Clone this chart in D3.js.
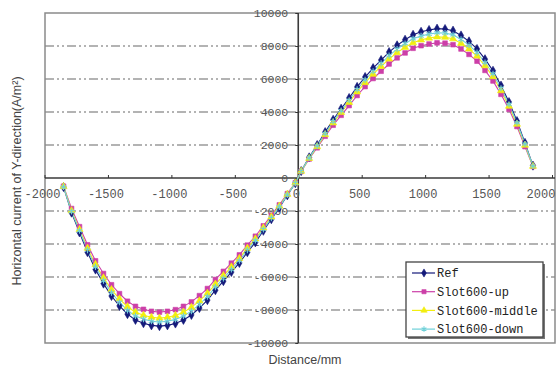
<!DOCTYPE html>
<html>
<head>
<meta charset="utf-8">
<script src="https://cdn.jsdelivr.net/npm/d3@7"></script>
<style>
  html, body { margin: 0; padding: 0; background: #fff; }
  svg { display: block; }
</style>
</head>
<body>
<svg id="chart" width="558" height="367"></svg>
<script>
// Sampling positions along the line (mm)
const distance = [
  -1850, -1787, -1724, -1661, -1598, -1535, -1472, -1409, -1346, -1283,
  -1220, -1157, -1094, -1031, -968, -905, -842, -779, -716, -653,
  -590, -527, -464, -401, -338, -275, -212, -149, -86, -23,
  23, 86, 149, 212, 275, 338, 401, 464, 527, 590,
  653, 716, 779, 842, 905, 968, 1031, 1094, 1157, 1220,
  1283, 1346, 1409, 1472, 1535, 1598, 1661, 1724, 1787, 1850
];

// Horizontal current density, Y-direction (A/m^2)
const refValues = [
  -550, -2100, -3300, -4500, -5550, -6400, -7150, -7750, -8250, -8600,
  -8800, -8930, -8980, -8930, -8820, -8600, -8300, -7880, -7400, -6800,
  -6250, -5700, -5150, -4500, -3900, -3200, -2500, -1800, -1050, -320,
  420, 1250, 2000, 2780, 3530, 4200, 4850, 5520, 6120, 6660,
  7150, 7630, 8040, 8380, 8680, 8860, 8970, 9050, 9030, 8930,
  8640, 8280, 7820, 7200, 6500, 5600, 4600, 3450, 2130, 750
];
const upValues = [
  -500, -1850, -2950, -4050, -5020, -5790, -6470, -7010, -7470, -7780,
  -7960, -8080, -8130, -8080, -7980, -7780, -7510, -7130, -6700, -6150,
  -5660, -5160, -4660, -4070, -3530, -2900, -2260, -1630, -950, -290,
  400, 1150, 1830, 2530, 3200, 3800, 4390, 5000, 5540, 6030,
  6470, 6910, 7280, 7580, 7860, 8020, 8120, 8190, 8170, 8080,
  7820, 7490, 7080, 6520, 5880, 5070, 4160, 3120, 1900, 700
];
const middleValues = [
  -520, -1985, -3120, -4250, -5240, -6050, -6760, -7320, -7800, -8130,
  -8320, -8440, -8490, -8440, -8330, -8130, -7840, -7450, -6990, -6430,
  -5910, -5390, -4870, -4250, -3690, -3020, -2360, -1700, -990, -300,
  410, 1190, 1900, 2630, 3340, 3970, 4580, 5220, 5780, 6290,
  6760, 7210, 7600, 7920, 8200, 8370, 8480, 8550, 8530, 8440,
  8160, 7820, 7390, 6800, 6140, 5290, 4350, 3260, 1990, 710
];
const downValues = [
  -540, -2030, -3200, -4370, -5390, -6220, -6950, -7530, -8020, -8360,
  -8550, -8680, -8730, -8680, -8570, -8360, -8070, -7660, -7190, -6610,
  -6080, -5540, -5010, -4370, -3790, -3110, -2430, -1750, -1020, -310,
  415, 1220, 1950, 2700, 3430, 4080, 4710, 5370, 5950, 6470,
  6950, 7420, 7810, 8150, 8440, 8610, 8720, 8800, 8780, 8680,
  8400, 8050, 7600, 7000, 6320, 5440, 4470, 3350, 2060, 730
];

const seriesNames = ["Ref", "Slot600-up", "Slot600-middle", "Slot600-down"];
const xTicks = [-2000, -1500, -1000, -500, 0, 500, 1000, 1500, 2000];
const yTicks = [-10000, -8000, -6000, -4000, -2000, 0, 2000, 4000, 6000, 8000, 10000];
const xTitle = "Distance/mm";
const yTitle = "Horizontal current of Y-direction(A/m²)";

const series = [
  { name: seriesNames[0], values: refValues,    color: "#141a7a", symbol: d3.symbolDiamond,  size: 24, filled: true },
  { name: seriesNames[1], values: upValues,     color: "#cc3fa8", symbol: d3.symbolSquare,   size: 22, filled: true },
  { name: seriesNames[2], values: middleValues, color: "#f2ee10", symbol: d3.symbolTriangle, size: 22, filled: true },
  { name: seriesNames[3], values: downValues,   color: "#6fd0d8", symbol: d3.symbolAsterisk, size: 26, filled: false }
];

const svg = d3.select("#chart");
const plot = { left: 45, right: 555, top: 13, bottom: 343 };

const x = d3.scaleLinear().domain([-2000, 2000]).range([44.5, 552]);
const y = d3.scaleLinear().domain([-10000, 10000]).range([343, 13]);

// Grid lines (dash-dot-dot)
svg.append("g")
  .selectAll("line")
  .data(yTicks.filter(v => v !== 0 && Math.abs(v) !== 10000))
  .join("line")
  .attr("x1", plot.left).attr("x2", plot.right)
  .attr("y1", d => y(d)).attr("y2", d => y(d))
  .attr("stroke", "#9a9a9a")
  .attr("stroke-width", 1.3)
  .attr("stroke-dasharray", "9,3,2,3,2,3");

// Plot area frame
svg.append("rect")
  .attr("x", plot.left).attr("y", plot.top)
  .attr("width", plot.right - plot.left).attr("height", plot.bottom - plot.top)
  .attr("fill", "none")
  .attr("stroke", "#8a8a8a")
  .attr("stroke-width", 1.5);

// Axes through the origin
const xAxis = d3.axisTop(x).tickValues(xTicks).tickSize(3).tickFormat("");
svg.append("g")
  .attr("transform", `translate(0,${y(0)})`)
  .call(xAxis)
  .call(g => g.select(".domain").attr("d", `M${plot.left},0H${plot.right}`).attr("stroke", "#3a3a3a").attr("stroke-width", 1.6))
  .call(g => g.selectAll(".tick line").attr("stroke", "#333"));

const yAxis = d3.axisLeft(y).tickValues(yTicks).tickSize(3).tickFormat("");
svg.append("g")
  .attr("transform", `translate(${x(0)},0)`)
  .call(yAxis)
  .call(g => g.select(".domain").attr("d", `M0,${plot.top}V${plot.bottom}`).attr("stroke", "#3a3a3a").attr("stroke-width", 1.6))
  .call(g => g.selectAll(".tick line").attr("stroke", "#333"));

// Tick labels
svg.append("g")
  .selectAll("text")
  .data(yTicks)
  .join("text")
  .attr("x", x(0) - 10)
  .attr("y", d => y(d))
  .attr("dy", "0.36em")
  .attr("text-anchor", "end")
  .attr("font-family", "Liberation Mono, monospace")
  .attr("font-size", 11.5)
  .attr("fill", "#555")
  .text(d => d);

svg.append("g")
  .selectAll("text")
  .data(xTicks)
  .join("text")
  .attr("x", d => Math.min(x(d) - 2, 541))
  .attr("y", y(0) + 20)
  .attr("text-anchor", "middle")
  .attr("font-family", "Liberation Mono, monospace")
  .attr("font-size", 12)
  .attr("fill", "#555")
  .text(d => d);

// Axis titles
svg.append("text")
  .attr("x", 305).attr("y", 364)
  .attr("text-anchor", "middle")
  .attr("font-family", "Liberation Sans, Arial, sans-serif")
  .attr("font-size", 12.5)
  .attr("fill", "#444")
  .text(xTitle);

svg.append("text")
  .attr("transform", "translate(21,181) rotate(-90)")
  .attr("text-anchor", "middle")
  .attr("font-family", "Liberation Sans, Arial, sans-serif")
  .attr("font-size", 12.5)
  .attr("fill", "#444")
  .text(yTitle);

// Series lines and markers
const line = d3.line().x((d, i) => x(distance[i])).y(d => y(d));

series.forEach(s => {
  svg.append("path")
    .datum(s.values)
    .attr("d", line)
    .attr("fill", "none")
    .attr("stroke", s.color)
    .attr("stroke-width", 1.1);
});

series.forEach(s => {
  const sym = d3.symbol().type(s.symbol).size(s.size);
  svg.append("g")
    .selectAll("path")
    .data(s.values)
    .join("path")
    .attr("transform", (d, i) => `translate(${x(distance[i])},${y(d)})`)
    .attr("d", sym)
    .attr("fill", s.filled ? s.color : "none")
    .attr("stroke", s.color)
    .attr("stroke-width", s.filled ? 0.6 : 1.1);
});

// Legend
const legend = svg.append("g");
legend.append("rect")
  .attr("x", 408).attr("y", 264).attr("width", 137).attr("height", 75)
  .attr("fill", "#777");
legend.append("rect")
  .attr("x", 406).attr("y", 262).attr("width", 137).attr("height", 75)
  .attr("fill", "#fff")
  .attr("stroke", "#444")
  .attr("stroke-width", 1.3);

series.forEach((s, i) => {
  const ly = 273 + i * 18.7;
  legend.append("line")
    .attr("x1", 412).attr("x2", 435)
    .attr("y1", ly).attr("y2", ly)
    .attr("stroke", s.color)
    .attr("stroke-width", 1.2);
  legend.append("path")
    .attr("transform", `translate(424,${ly})`)
    .attr("d", d3.symbol().type(s.symbol).size(s.size * 0.8))
    .attr("fill", s.filled ? s.color : "none")
    .attr("stroke", s.color)
    .attr("stroke-width", s.filled ? 0.6 : 1.1);
  legend.append("text")
    .attr("x", 437).attr("y", ly)
    .attr("dy", "0.36em")
    .attr("font-family", "Liberation Mono, monospace")
    .attr("font-size", 12)
    .attr("fill", "#222")
    .text(s.name);
});
</script>
</body>
</html>
